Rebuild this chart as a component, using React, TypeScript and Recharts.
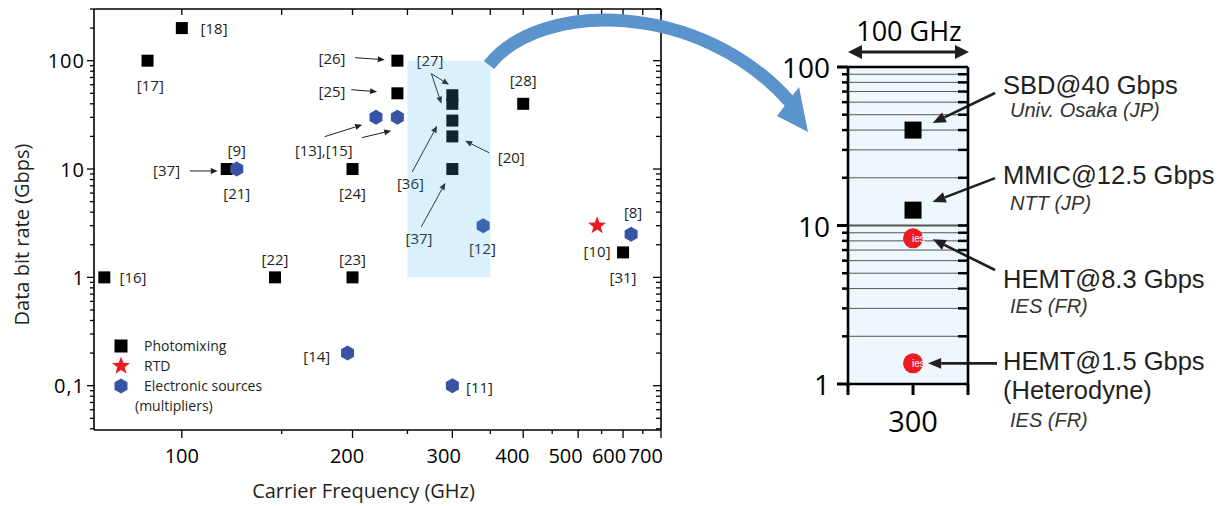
import React from 'react';
import {
  ScatterChart, Scatter, XAxis, YAxis, ReferenceArea, ReferenceLine, Legend, Label
} from 'recharts';

const FONT = '"Open Sans", "Noto Sans", sans-serif';
const HELV = '"Liberation Sans", Arial, sans-serif';
const INK = '#231f20';

// main chart: carrier frequency (GHz) vs data bit rate (Gbps)
const photoFreq = [100, 87, 120, 200, 240, 240, 73, 146, 200, 300, 300, 300, 300, 300, 400, 600];
const photoRate = [200, 100, 10, 10, 100, 50, 1, 1, 1, 48, 40, 28, 20, 10, 40, 1.7];
const rtdFreq = [540];
const rtdRate = [3];
const elecFreq = [125, 220, 240, 196, 300, 340, 620];
const elecRate = [10, 30, 30, 0.2, 0.1, 3, 2.5];

// reference tags
const refText = ['[18]', '[17]', '[26]', '[25]', '[13],[15]', '[9]', '[37]', '[21]', '[24]', '[22]', '[23]', '[16]',
  '[14]', '[11]', '[27]', '[28]', '[36]', '[20]', '[37]', '[12]', '[8]', '[10]', '[31]'];
const refFreq = [114, 88, 184, 184, 178, 125, 94, 125, 200, 146, 200, 82, 173, 335, 274, 400, 253, 381, 262, 339, 625, 540, 600];
const refRate = [200, 60, 106, 53, 15.1, 15.1, 9.7, 6, 6, 1.49, 1.49, 1, 0.189, 0.098, 102, 67, 7.46, 13, 2.32, 1.87, 4.04, 1.74, 1];

// leader arrows (from tag towards point)
const arrowFrom = [[202, 106.6], [199, 54], [178.6, 19.9], [208, 19.5], [103.3, 9.6], [275.5, 75.9], [275.5, 75.9], [255, 9.44], [348.5, 14.1], [264.5, 2.93]];
const arrowTo = [[228, 102], [221, 51.7], [208, 25.6], [234, 22.6], [115.7, 9.6], [296, 60], [287, 40], [282, 25.1], [316, 18.2], [291.6, 7.46]];

const xTicks = [100, 150, 200, 250, 300, 350, 400, 450, 500, 550, 600, 650, 700];
const xLabels = [100, 200, 300, 400, 500, 600, 700];
const yMajor = [0.1, 1, 10, 100];
const yMinor = [0.01, 0.1, 1, 10, 100].flatMap((d) => [2, 3, 4, 5, 6, 7, 8, 9].map((m) => m * d)).filter((v) => v >= 0.039 && v <= 300);
const yTicks = [...yMajor, ...yMinor];

// inset: 250-350 GHz window
const insetPhotoFreq = [300, 300];
const insetPhotoRate = [40, 12.5];
const insetHemtFreq = [300, 300];
const insetHemtRate = [8.3, 1.35];
const insetArrowFrom = [[377.6, 68.5], [377.6, 19.9], [377.6, 5.24], [379.7, 1.35]];
const insetArrowTo = [[317, 44.3], [317, 14.07], [317, 8.2], [313, 1.35]];
const insetMajor = [1, 10, 100];
const insetGrid = [2, 3, 4, 5, 6, 7, 8, 9, 10, 20, 30, 40, 50, 60, 70, 80, 90];

const toPts = (xs: number[], ys: number[]) => xs.map((f, i) => ({ freq: f, rate: ys[i] }));
const photoData = toPts(photoFreq, photoRate);
const rtdData = toPts(rtdFreq, rtdRate);
const elecData = toPts(elecFreq, elecRate);
const refData = refText.map((t, i) => ({ freq: refFreq[i], rate: refRate[i], text: t }));
const insetPhotoData = toPts(insetPhotoFreq, insetPhotoRate);
const insetHemtData = toPts(insetHemtFreq, insetHemtRate);

const hexPoints = (cx: number, cy: number, r: number) =>
  Array.from({ length: 6 }, (_, i) => {
    const a = Math.PI / 2 + (i * Math.PI) / 3;
    return `${cx + r * Math.cos(a)},${cy + r * Math.sin(a)}`;
  }).join(' ');

const starPoints = (cx: number, cy: number, ro: number, ri: number) =>
  Array.from({ length: 10 }, (_, i) => {
    const r = i % 2 === 0 ? ro : ri;
    const a = -Math.PI / 2 + (i * Math.PI) / 5;
    return `${cx + r * Math.cos(a)},${cy + r * Math.sin(a)}`;
  }).join(' ');

const Square = (s: number, fill: string) => (p: any) =>
  <rect x={p.cx - s / 2} y={p.cy - s / 2} width={s} height={s} fill={fill} />;
const Hex = (p: any) => <polygon points={hexPoints(p.cx, p.cy, 7.5)} fill="#3953a4" />;
const Star = (p: any) => <polygon points={starPoints(p.cx, p.cy, 9.5, 3.9)} fill="#ed1c24" />;
const Nothing = () => <g />;
const Ies = (p: any) => (
  <g>
    <circle cx={p.cx} cy={p.cy} r={10} fill="#ed1c24" />
    <text x={p.cx - 1} y={p.cy} fontSize={10} fill="#fff" fontFamily={HELV} dominantBaseline="central">ies</text>
  </g>
);
const RefTag = (p: any) => (
  <text x={p.cx} y={p.cy} textAnchor="middle" dominantBaseline="central" fontSize={15} fill={INK} fontFamily={FONT}>
    {p.payload.text}
  </text>
);

const arrowShape = (w: number, head: number) => (p: any) => {
  const { x1, y1, x2, y2 } = p;
  const ang = Math.atan2(y2 - y1, x2 - x1);
  const bx = x2 - head * Math.cos(ang);
  const by = y2 - head * Math.sin(ang);
  const hw = head * 0.42;
  const px = -Math.sin(ang) * hw;
  const py = Math.cos(ang) * hw;
  return (
    <g>
      <line x1={x1} y1={y1} x2={bx} y2={by} stroke={INK} strokeWidth={w} />
      <polygon points={`${x2},${y2} ${bx + px},${by + py} ${bx - px},${by - py}`} fill={INK} />
    </g>
  );
};

const fmtY = (v: number) => (v === 0.1 ? '0,1' : String(v));

const bottomTick = (p: any) => {
  const v = p.payload.value;
  const major = xLabels.includes(v);
  return (
    <g>
      <line x1={p.x} x2={p.x} y1={p.y} y2={p.y + (major ? 8 : 4)} stroke="#000" strokeWidth={1.3} />
      {major && (
        <text x={p.x - 18 * Math.log10(v / 100)} y={p.y + 25} textAnchor="middle" dominantBaseline="central"
          fontSize={20} fill="#000" fontFamily={FONT}>{v}</text>
      )}
    </g>
  );
};
const topTick = (p: any) => (
  <line x1={p.x} x2={p.x} y1={p.y} y2={p.y + 6} stroke="#000" strokeWidth={1.3} />
);
const leftTick = (p: any) => {
  const v = p.payload.value;
  const major = yMajor.includes(v);
  return (
    <g>
      <line x1={p.x} x2={p.x - (major ? 7 : 4)} y1={p.y} y2={p.y} stroke="#000" strokeWidth={1.3} />
      {major && (
        <text x={p.x - 9} y={p.y} textAnchor="end" dominantBaseline="central" fontSize={20}
          letterSpacing={1} fill="#000" fontFamily={FONT}>{fmtY(v)}</text>
      )}
    </g>
  );
};
const rightTick = (p: any) => {
  const major = yMajor.includes(p.payload.value);
  return <line x1={p.x} x2={p.x - (major ? 8 : 5)} y1={p.y} y2={p.y} stroke="#000" strokeWidth={1.3} />;
};

const insetLeftTick = (p: any) => {
  const v = p.payload.value;
  const major = insetMajor.includes(v);
  return (
    <g>
      <line x1={p.x} x2={p.x - (major ? 11 : 6)} y1={p.y} y2={p.y} stroke="#000" strokeWidth={major ? 3 : 2.5} />
      {major && (
        <text x={p.x - 18} y={p.y} textAnchor="end" dominantBaseline="central" fontSize={28}
          fill="#000" fontFamily={FONT}>{v}</text>
      )}
    </g>
  );
};
const insetRightTick = (p: any) => (
  <line x1={p.x} x2={p.x - 10} y1={p.y} y2={p.y} stroke="#000" strokeWidth={2.5} />
);
const insetBottomTick = (p: any) => (
  <g>
    <line x1={p.x} x2={p.x} y1={p.y} y2={p.y + 11} stroke="#000" strokeWidth={3} />
    {p.payload.value === 300 && (
      <text x={p.x} y={p.y + 36} textAnchor="middle" dominantBaseline="central" fontSize={29}
        fill="#000" fontFamily={FONT}>300</text>
    )}
  </g>
);

const XTitle = (p: any) => {
  const vb = p.viewBox;
  return (
    <text x={vb.x + vb.width / 2 - 14} y={vb.y + 60} textAnchor="middle" dominantBaseline="central"
      fontSize={20} fill={INK} fontFamily={FONT}>Carrier Frequency (GHz)</text>
  );
};
const YTitle = (p: any) => {
  const vb = p.viewBox;
  const cx = vb.x + 21;
  const cy = vb.y + vb.height / 2 + 15;
  return (
    <text transform={`translate(${cx},${cy}) rotate(-90)`} textAnchor="middle" dominantBaseline="central"
      fontSize={20} fill={INK} fontFamily={FONT}>Data bit rate (Gbps)</text>
  );
};

const legendRows = [
  { name: 'Photomixing', icon: <rect x={2.5} y={3.5} width={13} height={13} fill="#000" /> },
  { name: 'RTD', icon: <polygon points={starPoints(9, 10, 9.5, 3.9)} fill="#ed1c24" /> },
  { name: 'Electronic sources', icon: <polygon points={hexPoints(9, 10, 7.5)} fill="#3953a4" /> },
];
const LegendBox = () => (
  <div style={{ fontFamily: FONT, fontSize: 14, color: INK, lineHeight: '20px' }}>
    {legendRows.map((r) => (
      <div key={r.name} style={{ display: 'flex', alignItems: 'center', height: 20 }}>
        <svg width={18} height={20}>{r.icon}</svg>
        <span style={{ marginLeft: 14 }}>{r.name}</span>
      </div>
    ))}
    <div style={{ marginLeft: 23, height: 20 }}>(multipliers)</div>
  </div>
);

export default function App() {
  const axisStroke = { stroke: '#000', strokeWidth: 1.6 };
  const insetStroke = { stroke: '#000', strokeWidth: 2.6 };
  return (
    <div style={{ position: 'absolute', left: 0, top: 0, width: 1228, height: 506, background: '#fff', overflow: 'hidden' }}>
      <div style={{ position: 'absolute', left: 0, top: 0 }}>
        <ScatterChart width={700} height={506} margin={{ top: 8, right: 38, bottom: 0, left: 0 }}>
          <XAxis dataKey="freq" type="number" scale="log" domain={[70, 700]} allowDataOverflow ticks={xTicks}
            interval={0} height={76} tickSize={0} tickMargin={0} tickLine={false} tick={bottomTick} axisLine={axisStroke}>
            <Label content={XTitle} />
          </XAxis>
          <XAxis xAxisId="top" orientation="top" dataKey="freq" type="number" scale="log" domain={[70, 700]}
            allowDataOverflow ticks={xTicks} interval={0} height={1} tickSize={0} tickMargin={0} tickLine={false}
            tick={topTick} axisLine={axisStroke} />
          <YAxis dataKey="rate" type="number" scale="log" domain={[0.039, 300]} allowDataOverflow ticks={yTicks}
            interval={0} width={94} tickSize={0} tickMargin={0} tickLine={false} tick={leftTick} axisLine={axisStroke}>
            <Label content={YTitle} />
          </YAxis>
          <YAxis yAxisId="right" orientation="right" dataKey="rate" type="number" scale="log" domain={[0.039, 300]}
            allowDataOverflow ticks={yTicks} interval={0} width={1} tickSize={0} tickMargin={0} tickLine={false}
            tick={rightTick} axisLine={axisStroke} />
          {/* invisible series so the mirrored frame axes get drawn */}
          <Scatter xAxisId="top" yAxisId="right" data={photoData} shape={Nothing} legendType="none" isAnimationActive={false} />
          <Scatter data={photoData} shape={Square(12, '#000')} isAnimationActive={false} />
          <Scatter data={rtdData} shape={Star} isAnimationActive={false} />
          <Scatter data={elecData} shape={Hex} isAnimationActive={false} />
          <Scatter data={refData} shape={RefTag} isAnimationActive={false} />
          {arrowFrom.map((a, i) => (
            <ReferenceLine key={i} segment={[{ x: a[0], y: a[1] }, { x: arrowTo[i][0], y: arrowTo[i][1] }]}
              ifOverflow="visible" shape={arrowShape(1, 7)} />
          ))}
          <ReferenceArea x1={250} x2={350} y1={1} y2={100} fill="rgb(70,180,235)" fillOpacity={0.2}
            stroke="none" ifOverflow="visible" zIndex={1000} />
          <Legend verticalAlign="middle" align="center" layout="vertical" content={LegendBox}
            wrapperStyle={{ left: 112, top: 336, width: 'auto', height: 'auto' }} />
        </ScatterChart>
      </div>

      <div style={{ position: 'absolute', left: 780, top: 0 }}>
        <ScatterChart width={448} height={506} margin={{ top: 66, right: 259, bottom: 0, left: 0 }}>
          <ReferenceArea x1={250} x2={350} y1={1} y2={100} fill="#dbeffa" stroke="none" />
          {insetGrid.map((g) => (
            <ReferenceLine key={g} y={g} stroke="#555" strokeWidth={g === 10 ? 1.8 : 1} />
          ))}
          <XAxis dataKey="freq" type="number" scale="log" domain={[250, 350]} allowDataOverflow ticks={[250, 300, 350]}
            interval={0} height={122} tickSize={0} tickMargin={0} tickLine={false} tick={insetBottomTick} axisLine={insetStroke} />
          <XAxis xAxisId="top" orientation="top" dataKey="freq" type="number" scale="log" domain={[250, 350]}
            allowDataOverflow ticks={[250, 300, 350]} interval={0} height={1} tickSize={0} tickMargin={0}
            tickLine={false} tick={Nothing} axisLine={insetStroke} />
          <YAxis dataKey="rate" type="number" scale="log" domain={[1, 100]} allowDataOverflow ticks={[...insetMajor, ...insetGrid.filter((g) => g !== 10)]}
            interval={0} width={68} tickSize={0} tickMargin={0} tickLine={false} tick={insetLeftTick} axisLine={insetStroke} />
          <YAxis yAxisId="right" orientation="right" dataKey="rate" type="number" scale="log" domain={[1, 100]}
            allowDataOverflow ticks={insetGrid} interval={0} width={1} tickSize={0} tickMargin={0} tickLine={false}
            tick={insetRightTick} axisLine={insetStroke} />
          <Scatter xAxisId="top" yAxisId="right" data={insetPhotoData} shape={Nothing} legendType="none" isAnimationActive={false} />
          <Scatter data={insetPhotoData} shape={Square(17, '#000')} isAnimationActive={false} />
          <Scatter data={insetHemtData} shape={Ies} isAnimationActive={false} />
          {insetArrowFrom.map((a, i) => (
            <ReferenceLine key={i} segment={[{ x: a[0], y: a[1] }, { x: insetArrowTo[i][0], y: insetArrowTo[i][1] }]}
              ifOverflow="visible" shape={arrowShape(2.6, 13)} />
          ))}
        </ScatterChart>
      </div>

      <svg width={1228} height={506} style={{ position: 'absolute', left: 0, top: 0, pointerEvents: 'none' }}>
        <path d="M 489 65 C 540 0, 700 0, 790 102" fill="none" stroke="#5b93cc" strokeWidth={13} />
        <polygon points="808,132 777,116 799,87" fill="#5b93cc" />
        <text x={909} y={41} textAnchor="middle" fontSize={27} fill="#000" fontFamily={FONT}>100 GHz</text>
        <line x1={858} x2={959} y1={52} y2={52} stroke={INK} strokeWidth={3} />
        <polygon points="848,52 862,45 862,59" fill={INK} />
        <polygon points="969,52 955,45 955,59" fill={INK} />
        <g fontFamily={HELV} fill={INK}>
          <text x={1003} y={94} fontSize={25.5}>SBD@40 Gbps</text>
          <text x={1010} y={117} fontSize={20} fontStyle="italic" fill="#333">Univ. Osaka (JP)</text>
          <text x={1003} y={184} fontSize={25.5}>MMIC@12.5 Gbps</text>
          <text x={1010} y={210} fontSize={20} fontStyle="italic" fill="#333">NTT (JP)</text>
          <text x={1003} y={288} fontSize={25.5}>HEMT@8.3 Gbps</text>
          <text x={1010} y={313} fontSize={20} fontStyle="italic" fill="#333">IES (FR)</text>
          <text x={1003} y={370} fontSize={25.5}>HEMT@1.5 Gbps</text>
          <text x={1003} y={399} fontSize={25.5}>(Heterodyne)</text>
          <text x={1010} y={427} fontSize={20} fontStyle="italic" fill="#333">IES (FR)</text>
        </g>
      </svg>
    </div>
  );
}
